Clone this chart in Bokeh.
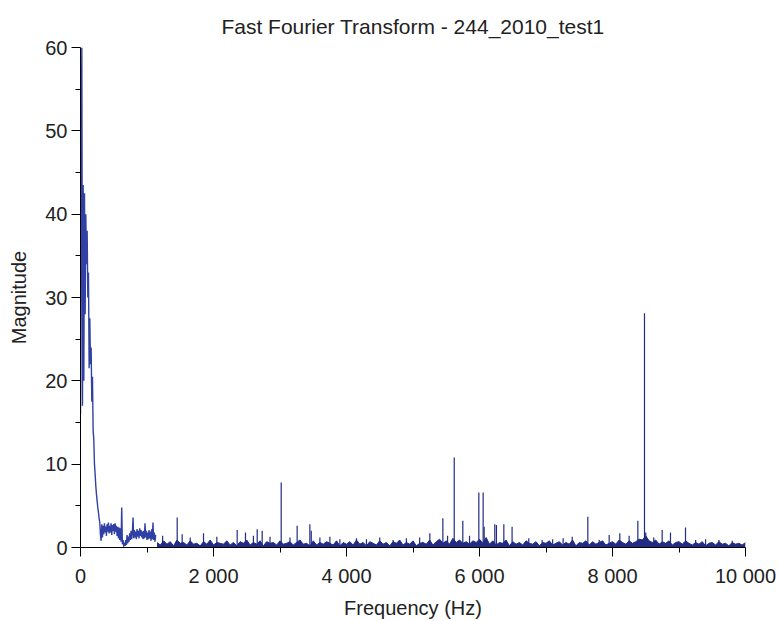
import numpy as np
from bokeh.plotting import figure
from bokeh.models import FixedTicker, Range1d
from bokeh.embed import file_html
from bokeh.resources import INLINE

# ---------------- data ----------------
# low-frequency dense part, bins every 10 Hz from 0 to 1130 Hz
band_step = 10
band_mag = [
    16.0, 44.0, 60.0, 17.0, 43.5, 20.0, 42.5, 28.0, 40.0, 34.0,   # 0-90
    38.0, 30.0, 33.0, 21.5, 27.5, 22.0, 24.0, 17.5, 20.5, 14.0,   # 100-190
    13.0, 10.0, 8.8, 7.4, 6.4, 5.6, 4.8, 4.2, 3.5, 3.0,           # 200-290
    1.5, 0.8, 2.8, 1.2, 2.6, 1.6, 2.9, 1.8, 2.5, 1.4,             # 300-390
    2.8, 1.9, 3.0, 1.7, 2.6, 1.8, 2.9, 1.5, 2.7, 2.0,             # 400-490
    2.8, 1.6, 2.9, 1.9, 2.6, 1.4, 2.5, 1.1, 2.4, 0.9,             # 500-590
    2.3, 0.7, 4.8, 0.4, 0.9, 0.1, 0.6, 0.2, 0.9, 0.3,             # 600-690
    1.5, 0.5, 1.3, 0.7, 1.7, 0.9, 2.0, 1.0, 1.8, 3.6,             # 700-790
    1.1, 2.1, 1.2, 1.9, 1.0, 2.2, 1.3, 2.0, 1.1, 2.3,             # 800-890
    1.4, 2.1, 1.2, 1.9, 1.0, 2.0, 1.1, 2.9, 1.2, 2.0,             # 900-990
    0.9, 1.8, 1.0, 2.1, 1.1, 1.9, 0.8, 2.2, 1.0, 3.0,             # 1000-1090
    0.9, 1.8, 0.7, 1.5,                                           # 1100-1130
]
band_freq = np.arange(len(band_mag)) * band_step

# noise floor, bins every 50 Hz from 1150 to 10000 Hz
floor_start = 1150
floor_step = 50
floor_mag = [
    0.6, 0.3, 0.8, 0.4, 0.7, 0.2, 0.9, 0.5, 0.6, 0.3, 0.8, 0.4, 0.5, 0.2, 0.7, 0.4, 0.9, 0.3, 0.6, 0.5,
    0.4, 0.8, 0.3, 0.6, 0.2, 0.7, 0.5, 0.9, 0.3, 0.6, 0.4, 0.8, 0.2, 0.7, 0.5, 0.6, 0.3, 0.8, 0.4, 0.5,
    0.7, 0.3, 0.6, 0.9, 0.4, 0.5, 0.2, 0.8, 0.3, 0.6, 0.4, 0.7, 0.5, 0.3, 0.8, 0.2, 0.6, 0.4, 0.7, 0.3,
    0.9, 0.4, 0.6, 0.2, 0.7, 0.5, 0.3, 0.8, 0.4, 0.6, 0.2, 0.7, 0.5, 0.9, 0.3, 0.6, 0.4, 0.8, 0.2, 0.5,
    0.6, 0.4, 0.9, 0.3, 0.7, 1.0, 0.5, 0.8, 0.4, 1.1, 0.6, 0.9, 0.5, 0.7, 0.4, 0.8, 0.6, 1.0, 0.5, 1.2,
    0.4, 0.8, 0.3, 0.6, 0.5, 0.9, 0.2, 0.7, 0.4, 0.6, 0.3, 0.8, 0.5, 0.4, 0.7, 0.2, 0.6, 0.5, 0.8, 0.3,
    0.5, 0.7, 0.3, 0.6, 0.4, 0.9, 0.2, 0.6, 0.5, 0.8, 0.3, 0.7, 0.4, 0.6, 0.8, 0.3, 0.5, 0.7, 0.4, 0.9,
    0.6, 0.4, 0.8, 0.5, 0.7, 1.0, 0.9, 1.4, 0.8, 0.6, 0.9, 0.4, 0.7, 0.5, 0.8, 0.3, 0.6, 0.7, 0.4, 0.8,
    0.5, 0.3, 0.6, 0.4, 0.7, 0.2, 0.5, 0.6, 0.3, 0.7, 0.4, 0.5, 0.2, 0.6, 0.4, 0.5, 0.3, 0.6,
]
floor_freq = floor_start + np.arange(len(floor_mag)) * floor_step

# isolated spectral lines (Hz, magnitude)
spike_freq = [1235, 1454, 1529, 1650, 1850, 2050, 2356, 2481, 2600, 2657,
              2732, 2850, 3018, 3150, 3258, 3449, 3470, 3600, 3750, 3900,
              4150, 4300, 4500, 4700, 4900, 5100, 5253, 5449, 5520, 5620,
              5749, 5850, 5990, 6055, 6070, 6230, 6255, 6366, 6490, 6741,
              6942, 7100, 7258, 7394, 7629, 7800, 7950, 8110, 8250, 8381,
              8481, 8500, 8620, 8747, 8872, 9098, 9250, 9400, 9600, 9800]
spike_mag = [1.4, 3.6, 1.6, 1.2, 1.7, 1.3, 2.1, 1.8, 1.4, 2.2,
             2.0, 1.3, 7.8, 1.2, 2.6, 2.8, 2.0, 1.2, 1.3, 1.0,
             1.1, 1.0, 1.2, 0.9, 1.1, 1.2, 1.7, 3.5, 1.4, 10.8,
             3.2, 1.4, 6.6, 6.6, 2.5, 2.8, 2.7, 2.8, 2.5, 1.1,
             0.9, 1.0, 1.1, 1.3, 3.7, 0.9, 1.5, 1.7, 1.4, 3.2,
             28.1, 1.8, 1.2, 2.1, 1.8, 2.4, 0.9, 1.0, 0.9, 0.8]

x_ticks = [0, 2000, 4000, 6000, 8000, 10000]
x_tick_labels = ["0", "2 000", "4 000", "6 000", "8 000", "10 000"]
x_minor = [1000, 3000, 5000, 7000, 9000]
y_ticks = [0, 10, 20, 30, 40, 50, 60]
y_minor = [5, 15, 25, 35, 45, 55]

title_text = "Fast Fourier Transform - 244_2010_test1"
x_title = "Frequency (Hz)"
y_title = "Magnitude"

# ---------------- figure ----------------
FONT = "Liberation Sans"
TXT = "#222222"
LINE = "#3040a4"
DARK = "#222c82"

p = figure(width=779, height=621, output_backend="svg", toolbar_location=None,
           x_range=Range1d(0, 10000), y_range=Range1d(0, 60),
           min_border_left=80, min_border_right=34, min_border_top=47,
           min_border_bottom=74)
p.outline_line_color = None
p.xgrid.visible = False
p.ygrid.visible = False
p.background_fill_color = "white"
p.border_fill_color = "white"

p.title.text = title_text
p.title.align = "center"
p.title.text_font = FONT
p.title.text_font_size = "21px"
p.title.text_font_style = "normal"
p.title.text_line_height = 1.0
p.title.text_color = TXT
p.title.standoff = 20

# noise floor filled band
p.varea(x=floor_freq, y1=0, y2=floor_mag, fill_color=DARK, fill_alpha=1.0)
p.line(floor_freq, floor_mag, line_color=DARK, line_width=1)
# low-frequency part
p.line(band_freq, band_mag, line_color=LINE, line_width=1.4)
# spectral lines
p.segment(x0=spike_freq, y0=0, x1=spike_freq, y1=spike_mag,
          line_color=DARK, line_width=1.2)

for ax in (p.xaxis, p.yaxis):
    ax.axis_line_color = "black"
    ax.axis_line_width = 1
    ax.major_tick_line_color = "black"
    ax.minor_tick_line_color = "black"
    ax.major_tick_in = 0
    ax.major_tick_out = 9
    ax.minor_tick_in = 0
    ax.minor_tick_out = 5
    ax.major_label_text_font = FONT
    ax.major_label_text_font_size = "20px"
    ax.major_label_text_color = TXT
    ax.axis_label_text_font = FONT
    ax.axis_label_text_font_size = "20px"
    ax.axis_label_text_font_style = "normal"
    ax.axis_label_text_color = TXT

p.xaxis.ticker = FixedTicker(ticks=x_ticks, minor_ticks=x_minor)
p.yaxis.ticker = FixedTicker(ticks=y_ticks, minor_ticks=y_minor)
p.xaxis.major_label_overrides = {t: s for t, s in zip(x_ticks, x_tick_labels)}
p.xaxis.major_label_standoff = 8
p.yaxis.major_label_standoff = 4
p.xaxis.axis_label = x_title
p.yaxis.axis_label = y_title
p.xaxis.axis_label_standoff = 7
p.yaxis.axis_label_standoff = 12

open("out.html", "w").write(file_html(p, INLINE))
